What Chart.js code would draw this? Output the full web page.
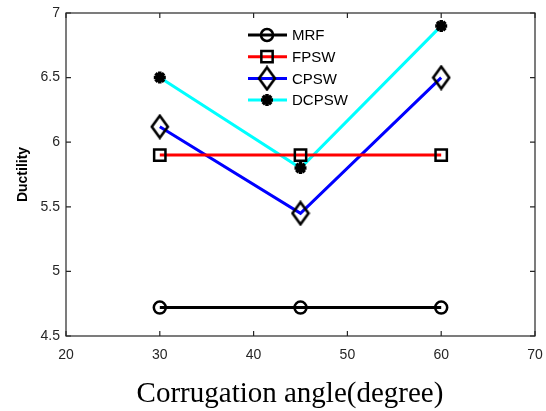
<!DOCTYPE html>
<html>
  <head>
   <title>Ductility</title>
   <script src="https://cdn.jsdelivr.net/npm/chart.js@4.4.0/dist/chart.umd.min.js"></script>
   <style>
    body{
      margin:0;
      background:#fff;
    }
    #wrap{
      width:546px;
      height:411px;
    }
   </style>
  </head>
  <body>
    <div id="wrap"><canvas id="chart" width="546" height="411"></canvas></div>

  <script>
    // data
    var angles = [30, 45, 60];
    var mrf = [4.72, 4.72, 4.72];
    var fpsw = [5.9, 5.9, 5.9];
    var cpsw = [6.12, 5.45, 6.5];
    var dcpsw = [6.5, 5.8, 6.9];
    var xTicks = [20, 30, 40, 50, 60, 70];
    var yTicks = [4.5, 5, 5.5, 6, 6.5, 7];
    var xTitle = 'Corrugation angle(degree)';
    var yTitle = 'Ductility';

    var seriesNames = ['MRF', 'FPSW', 'CPSW', 'DCPSW'];
    var seriesValues = [mrf, fpsw, cpsw, dcpsw];
    var lineColors = ['#000000', '#ff0000', '#0000ff', '#00ffff'];

    // tall diamond like matlab's 'd' marker
    function makeDiamond(){
      var c = document.createElement('canvas');
      c.width = 20; c.height = 26;
      var g = c.getContext('2d');
      g.strokeStyle = '#000';
      g.lineWidth = 2.6;
      g.lineJoin = 'miter';
      g.beginPath();
      g.moveTo(10, 2); g.lineTo(18, 13); g.lineTo(10, 24); g.lineTo(2, 13);
      g.closePath();
      g.stroke();
      return c;
    }
    var diamond = makeDiamond();

    var markers = ['circle', 'rect', diamond, 'star'];
    var markerSize = [6, 8, 8, 6];

    function pts(vals){
      var out = [];
      for (var i = 0; i < angles.length; i++){
        out.push({x: angles[i], y: vals[i]});
      }
      return out;
    }

    var datasets = [];
    for (var s = 0; s < seriesNames.length; s++){
      datasets.push({
        label: seriesNames[s],
        data: pts(seriesValues[s]),
        borderColor: lineColors[s],
        borderWidth: 3,
        pointStyle: markers[s],
        pointRadius: markerSize[s],
        pointBorderColor: '#000',
        pointBackgroundColor: s == 3 ? '#000' : 'rgba(0,0,0,0)',
        pointBorderWidth: s == 3 ? 3.5 : 2.5,
        tension: 0
      });
    }

    // MATLAB style box, inward ticks, legend and x label
    var boxPlugin = {
      id: 'box',
      afterDraw: function(chart){
        var ctx = chart.ctx;
        var a = chart.chartArea;
        var xs = chart.scales.x, ys = chart.scales.y;
        ctx.save();
        ctx.strokeStyle = '#262626';
        ctx.lineWidth = 1.2;
        ctx.strokeRect(a.left, a.top, a.right - a.left, a.bottom - a.top);
        ctx.beginPath();
        xTicks.forEach(function(v){
          var px = xs.getPixelForValue(v);
          ctx.moveTo(px, a.bottom); ctx.lineTo(px, a.bottom - 5);
          ctx.moveTo(px, a.top); ctx.lineTo(px, a.top + 5);
        });
        yTicks.forEach(function(v){
          var py = ys.getPixelForValue(v);
          ctx.moveTo(a.left, py); ctx.lineTo(a.left + 5, py);
          ctx.moveTo(a.right, py); ctx.lineTo(a.right - 5, py);
        });
        ctx.stroke();

        // legend
        ctx.font = '15px "Liberation Sans", Arial, sans-serif';
        ctx.textBaseline = 'middle';
        for (var i = 0; i < seriesNames.length; i++){
          var ly = 35 + i * 21.7;
          ctx.strokeStyle = lineColors[i];
          ctx.lineWidth = 3;
          ctx.beginPath();
          ctx.moveTo(248, ly); ctx.lineTo(287, ly);
          ctx.stroke();
          var ds = chart.data.datasets[i];
          ctx.strokeStyle = '#000';
          ctx.fillStyle = ds.pointBackgroundColor;
          ctx.lineWidth = ds.pointBorderWidth;
          Chart.helpers.drawPoint(ctx, {
            pointStyle: ds.pointStyle,
            radius: ds.pointRadius,
            rotation: 0,
            borderWidth: ds.pointBorderWidth
          }, 267, ly);
          ctx.fillStyle = '#000';
          ctx.fillText(seriesNames[i], 292, ly + 1);
        }

        // x label, matlab puts it a bit left of centre here
        ctx.font = '29px "Liberation Serif", "Times New Roman", serif';
        ctx.textAlign = 'center';
        ctx.textBaseline = 'alphabetic';
        ctx.fillStyle = '#000';
        ctx.fillText(xTitle, 290, 402);
        ctx.restore();
      }
    };

    new Chart(document.getElementById('chart'), {
      type: 'line',
      data: { datasets: datasets },
      plugins: [boxPlugin],
      options: {
        responsive: false,
        animation: false,
        layout: { padding: { top: 13, right: 11, left: 0, bottom: 0 } },
        plugins: {
          legend: { display: false },
          tooltip: { enabled: false }
        },
        scales: {
          x: {
            type: 'linear',
            min: 20,
            max: 70,
            afterBuildTicks: function(scale){
              scale.ticks = xTicks.map(function(v){ return {value: v}; });
            },
            afterFit: function(scale){
              scale.height = 75;
              scale.paddingLeft = 0;
              scale.paddingRight = 0;
            },
            grid: { display: false, drawTicks: false },
            border: { display: false },
            ticks: {
              color: '#262626',
              font: { family: '"Liberation Sans", Arial, sans-serif', size: 14 },
              padding: 11,
              maxRotation: 0,
              callback: function(v){ return String(v); }
            }
          },
          y: {
            type: 'linear',
            min: 4.5,
            max: 7,
            afterBuildTicks: function(scale){
              scale.ticks = yTicks.map(function(v){ return {value: v}; });
            },
            afterFit: function(scale){
              scale.width = 66;
              scale.paddingTop = 0;
              scale.paddingBottom = 0;
            },
            grid: { display: false, drawTicks: false },
            border: { display: false },
            ticks: {
              color: '#262626',
              font: { family: '"Liberation Sans", Arial, sans-serif', size: 14 },
              padding: 6,
              callback: function(v){ return String(v); }
            },
            title: {
              display: true,
              text: yTitle,
              color: '#000',
              font: { family: '"Liberation Sans", Arial, sans-serif', size: 14, weight: 'bold' },
              padding: { top: 15, bottom: 0 }
            }
          }
        }
      }
    });
  </script>
  </body>
</html>
